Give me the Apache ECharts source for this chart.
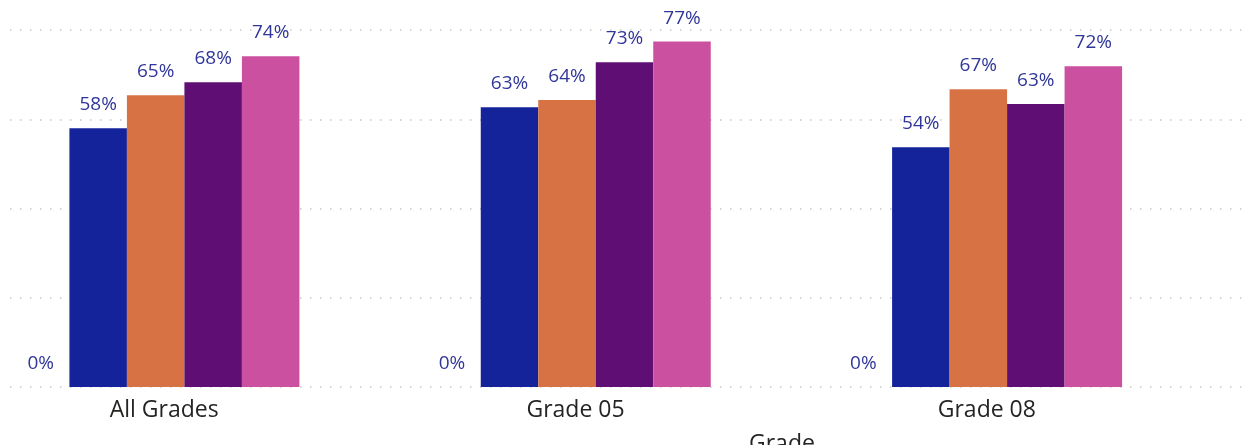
<!DOCTYPE html>
<html>
<head>
<meta charset="utf-8">
<script src="https://cdn.jsdelivr.net/npm/echarts@6/dist/echarts.min.js"></script>
<style>
html,body{margin:0;padding:0;background:#fff;}
#chart{width:1248px;height:445px;}
</style>
</head>
<body>
<div id="chart"></div>
<script>
const categories = ['All Grades', 'Grade 05', 'Grade 08'];
const seriesNames = ['Blank', 'Series A', 'Series B', 'Series C', 'Series D'];
const blankValues = [0, 0, 0];
const seriesA = [0.580, 0.627, 0.537];
const seriesB = [0.654, 0.643, 0.667];
const seriesC = [0.683, 0.728, 0.634];
const seriesD = [0.741, 0.774, 0.719];
const yTicks = [0, 0.2, 0.4, 0.6, 0.8];

const colors = ['rgba(0,0,0,0)', '#15239B', '#D67244', '#5F0F74', '#CB50A0'];
const FONT = '"Open Sans", "Noto Sans", sans-serif';
const allData = [blankValues, seriesA, seriesB, seriesC, seriesD];

const barSeries = allData.map((d, i) => ({
  name: seriesNames[i],
  type: 'bar',
  xAxisIndex: 1,
  yAxisIndex: 1,
  data: d,
  barWidth: 57.5,
  barGap: '0%',
  itemStyle: { color: colors[i] },
  label: {
    show: true,
    position: 'top',
    distance: 14,
    fontFamily: FONT,
    fontSize: 19,
    color: '#30369A',
    formatter: p => Math.round(p.value * 100) + '%'
  }
}));
// invisible spacer slot at the right of each group (layout only)
barSeries.push({
  name: 'spacer',
  type: 'bar',
  xAxisIndex: 1,
  yAxisIndex: 1,
  data: blankValues,
  barWidth: 100,
  barGap: '0%',
  silent: true,
  itemStyle: { color: 'rgba(0,0,0,0)' },
  label: { show: false }
});

const chart = echarts.init(document.getElementById('chart'));
chart.setOption({
  animation: false,
  backgroundColor: '#ffffff',
  title: {
    text: 'Grade',
    left: 744,
    top: 428,
    textStyle: { fontFamily: FONT, fontSize: 23, fontWeight: 'normal', color: '#252423' }
  },
  grid: [
    { left: 10, right: 0, top: 30, bottom: 58 },
    { left: 0, width: 1234, top: 30, bottom: 58 }
  ],
  xAxis: [
    { type: 'category', gridIndex: 0, data: categories, show: false },
    {
      type: 'category', gridIndex: 1, data: categories,
      axisLine: { show: false }, axisTick: { show: false },
      axisLabel: {
        fontFamily: FONT, fontSize: 23, color: '#252423', margin: 12,
        padding: [0, 83, 0, 0]
      }
    }
  ],
  yAxis: [
    {
      type: 'value', gridIndex: 0, min: yTicks[0], max: yTicks[yTicks.length - 1], interval: 0.2,
      axisLine: { show: false }, axisTick: { show: false }, axisLabel: { show: false },
      splitLine: { show: true, lineStyle: { color: '#C8C8C8', width: 1.5, type: [1.5, 8.5] } }
    },
    {
      type: 'value', gridIndex: 1, min: yTicks[0], max: yTicks[yTicks.length - 1], interval: 0.2,
      axisLine: { show: false }, axisTick: { show: false }, axisLabel: { show: false },
      splitLine: { show: false }
    }
  ],
  series: barSeries
});
</script>
</body>
</html>
